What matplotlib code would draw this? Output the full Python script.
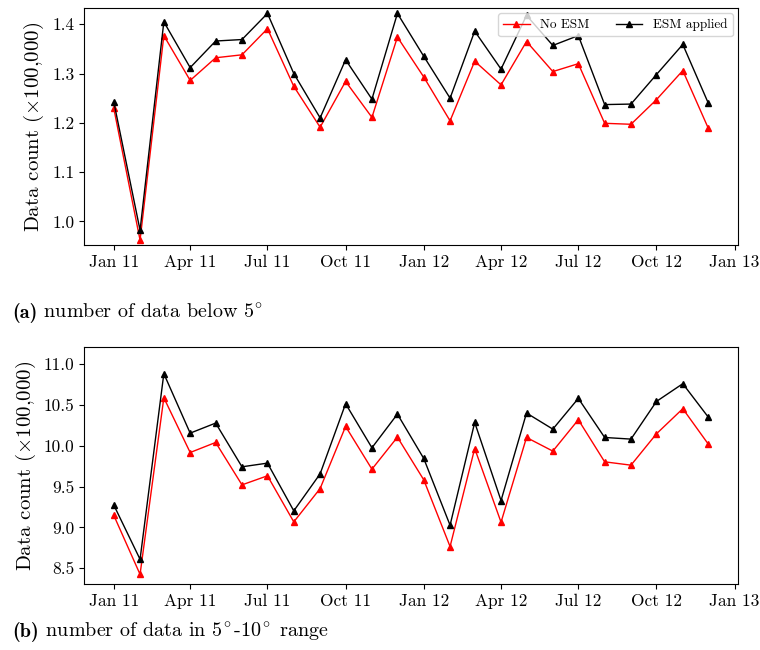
import matplotlib
matplotlib.use("Agg")
import matplotlib.pyplot as plt
import matplotlib.dates as mdates
import numpy as np
import pandas as pd

plt.rcParams['font.family'] = 'cmr10'
plt.rcParams['mathtext.fontset'] = 'cm'
plt.rcParams['axes.formatter.use_mathtext'] = True

months = pd.date_range("2011-01-01", "2012-12-01", freq="MS")

below5_no_esm = [1.230, 0.962, 1.377, 1.286, 1.332, 1.338, 1.391, 1.274, 1.191, 1.284, 1.211, 1.374,
                 1.293, 1.204, 1.325, 1.277, 1.365, 1.304, 1.320, 1.199, 1.197, 1.247, 1.306, 1.189]
below5_esm = [1.243, 0.982, 1.405, 1.312, 1.366, 1.369, 1.422, 1.300, 1.210, 1.328, 1.248, 1.422,
              1.335, 1.250, 1.386, 1.309, 1.418, 1.357, 1.377, 1.237, 1.238, 1.298, 1.359, 1.240]

range5_10_no_esm = [9.150, 8.426, 10.587, 9.917, 10.040, 9.521, 9.632, 9.068, 9.476, 10.236, 9.713, 10.105,
                    9.583, 8.766, 9.966, 9.064, 10.101, 9.934, 10.318, 9.803, 9.762, 10.146, 10.453, 10.020]
range5_10_esm = [9.276, 8.610, 10.882, 10.154, 10.277, 9.742, 9.787, 9.203, 9.656, 10.514, 9.975, 10.387,
                 9.844, 9.027, 10.285, 9.329, 10.400, 10.203, 10.579, 10.101, 10.081, 10.542, 10.759, 10.350]

fig = plt.figure(figsize=(7.6, 6.5), dpi=100)
W, H = 760, 650
ax1 = fig.add_axes([84 / W, 1 - 245 / H, (738 - 84) / W, (245 - 8) / H])
ax2 = fig.add_axes([84 / W, 1 - 584 / H, (738 - 84) / W, (584 - 347) / H])

for ax, no_esm, esm, ylim, yticks in [
        (ax1, below5_no_esm, below5_esm, (0.952, 1.433), [1.0, 1.1, 1.2, 1.3, 1.4]),
        (ax2, range5_10_no_esm, range5_10_esm, (8.308, 11.208), [8.5, 9.0, 9.5, 10.0, 10.5, 11.0])]:
    ax.plot(months, no_esm, color='red', marker='^', markersize=5, linewidth=1, label='No ESM')
    ax.plot(months, esm, color='black', marker='^', markersize=5, linewidth=1, label='ESM applied')
    ax.set_ylim(*ylim)
    ax.set_yticks(yticks)
    ax.yaxis.set_major_formatter(matplotlib.ticker.FormatStrFormatter('%.1f'))
    ax.xaxis.set_major_locator(mdates.MonthLocator(bymonth=[1, 4, 7, 10]))
    ax.xaxis.set_major_formatter(mdates.DateFormatter('%b %y'))
    ax.set_ylabel(r'Data count ($\times$100,000)', fontsize=15)
    ax.tick_params(labelsize=12.5)

ax1.legend(loc='upper right', ncol=2, fontsize=9.5, framealpha=0.8, borderaxespad=0.4)

cap_fs = 14.5
captions = [("(a)", r" number of data below $5^{\!\circ}$", 313),
            ("(b)", r" number of data in $5^{\!\circ}$-$10^{\!\circ}$ range", 632)]
fig.canvas.draw()
renderer = fig.canvas.get_renderer()
for lab, rest, ypix in captions:
    t1 = fig.text(12 / W, 1 - (ypix + 5) / H, lab, fontsize=cap_fs, family='cmb10', va='baseline')
    bb = t1.get_window_extent(renderer=renderer)
    x1 = bb.x1 / fig.bbox.width
    fig.text(x1, 1 - (ypix + 5) / H, rest, fontsize=cap_fs, va='baseline')

fig.savefig('out.png', dpi=100)
